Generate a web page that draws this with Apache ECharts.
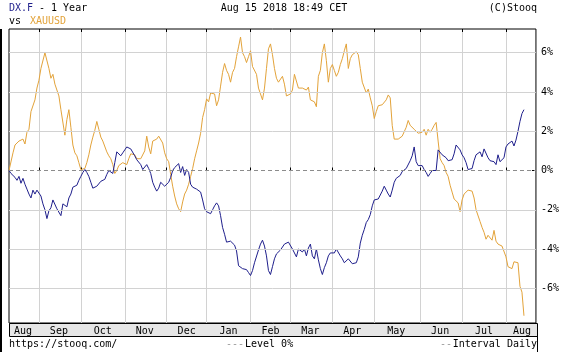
<!DOCTYPE html>
<html>
<head>
<meta charset="utf-8">
<script src="https://cdn.jsdelivr.net/npm/echarts@6.0.0/dist/echarts.min.js"></script>
<style>
  html, body { margin: 0; padding: 0; background: #fff; }
  #chart { width: 562px; height: 352px; }
</style>
</head>
<body>
<div id="chart"></div>
<script>
// month segments of the x axis (trading days per month, last one padded to the frame)
const months = ['Aug', 'Sep', 'Oct', 'Nov', 'Dec', 'Jan', 'Feb', 'Mar', 'Apr', 'May', 'Jun', 'Jul', 'Aug']
const monthDays = [15, 21, 22, 21, 20, 22, 20, 21, 21, 23, 21, 22, 16]
const yTicks = [-6, -4, -2, 0, 2, 4, 6]

// % change since Aug 15 2017, one value per trading day
const dxf = [
  0, -0.15, -0.25, -0.35, -0.5, -0.3, -0.65, -0.4, -0.7, -0.95,
  -1.2, -1.4, -1.0, -1.2, -1.0, -1.05, -1.3, -1.7, -2.0, -2.45,
  -2.05, -1.9, -1.5, -1.6, -1.95, -2.05, -2.3, -1.7, -1.8, -1.85,
  -1.4, -1.2, -0.85, -0.75, -0.75, -0.5, -0.3, -0.1, 0.05, -0.1,
  -0.3, -0.6, -0.9, -0.9, -0.8, -0.7, -0.55, -0.6, -0.45, -0.2,
  0.0, -0.05, -0.15, 0.4, 0.95, 0.9, 0.75, 0.9, 1.05, 1.2,
  1.1, 1.1, 1.1, 0.75, 0.55, 0.5, 0.3, 0.05, 0.1, 0.3,
  0.1, -0.15, -0.6, -0.85, -1.05, -0.9, -0.6, -0.7, -0.8, -0.8,
  -0.6, -0.35, 0.0, 0.15, 0.25, 0.35, -0.1, 0.2, -0.25, 0.05,
  -0.1, -0.7, -0.85, -0.95, -0.95, -1.0, -1.1, -1.5, -1.95, -2.1,
  -2.05, -2.2, -2.0, -1.8, -1.65, -1.8, -2.3, -2.9, -3.25, -3.65,
  -3.7, -3.6, -3.65, -3.8, -4.1, -4.85, -4.95, -5.0, -4.95, -5.05,
  -5.2, -5.35, -5.1, -4.7, -4.6, -4.05, -3.75, -3.55, -3.85, -4.35,
  -5.1, -5.3, -4.9, -4.5, -4.25, -4.15, -4.05, -3.95, -3.75, -3.65,
  -3.65, -3.75, -4.0, -3.95, -4.4, -4.0, -3.9, -4.15, -4.0, -4.35,
  -3.95, -3.75, -4.35, -4.5, -4.0, -4.55, -5.0, -5.3, -4.95, -4.7,
  -4.35, -4.2, -4.1, -4.2, -4.0, -3.95, -4.35, -4.5, -4.7, -4.75,
  -4.5, -4.55, -4.75, -4.8, -4.7, -4.4, -3.7, -3.3, -3.0, -2.65,
  -2.5, -2.25, -1.8, -1.5, -1.45, -1.45, -1.35, -1.05, -0.8, -1.0,
  -1.2, -1.35, -1.0, -0.6, -0.4, -0.3, -0.25, -0.05, 0.05, 0.1,
  0.15, 0.5, 0.75, 1.2, 0.45, 0.25, 0.35, 0.25, 0.05, -0.1,
  -0.3, -0.15, 0.0, 0.1, 0.0, 1.05, 0.95, 0.8, 0.9, 0.65,
  0.5, 0.5, 0.55, 0.85, 1.3, 1.4, 1.05, 0.8, 0.65, 0.4,
  0.05, 0.0, 0.1, 0.5, 0.8, 0.85, 0.95, 0.7, 1.1, 1.15,
  0.65, 0.5, 0.5, 0.45, 0.3, 0.8, 0.45, 0.45, 0.65, 1.2,
  1.35, 1.3, 1.5, 1.25, 1.55, 2.0, 2.5, 2.9, 3.1
]

const xau = [
  0, 0.1, 0.9, 1.3, 1.35, 1.5, 1.4, 1.6, 1.35, 1.95,
  2.1, 3.0, 3.0, 3.6, 4.2, 4.6, 5.2, 5.1, 6.0, 6.05,
  5.2, 4.7, 4.9, 4.4, 4.1, 3.8, 3.1, 3.0, 1.8, 2.6,
  3.1, 2.2, 1.3, 0.9, 0.75, 0.4, 0.05, 0.1, 0.1, 0.4,
  0.8, 1.3, 1.7, 2.05, 2.5, 2.1, 1.7, 1.5, 1.4, 0.95,
  0.75, 0.6, 0.3, -0.15, 0.0, 0.25, 0.3, 0.4, 0.5, 0.3,
  0.6, 0.85, 0.75, 0.8, 0.6, 0.55, 0.6, 0.65, 1.0, 1.75,
  1.2, 0.85, 1.5, 1.4, 1.6, 1.75, 1.8, 1.4, 0.9, 0.6,
  0.45, -0.2, -0.8, -1.3, -1.7, -1.95, -2.1, -1.6, -1.2, -1.0,
  -0.7, -0.3, 0.1, 0.6, 1.0, 1.4, 1.9, 2.7, 3.1, 3.65,
  3.5, 3.95, 3.95, 3.9, 3.3, 3.6, 4.3, 5.0, 5.45, 5.1,
  4.9, 4.5, 5.0, 5.2, 5.8, 6.3, 6.8, 6.0, 5.8, 5.5,
  5.8, 6.1, 5.3, 5.4, 4.9, 4.2, 3.9, 3.6, 4.2, 5.2,
  6.2, 6.45, 5.9, 5.2, 4.7, 4.5, 4.6, 4.8, 4.4, 3.8,
  3.7, 3.9, 4.1, 4.9, 4.9, 4.2, 4.1, 4.2, 4.3, 4.1,
  4.25, 3.6, 3.5, 3.5, 3.25, 4.8, 5.1, 6.0, 6.45, 5.6,
  4.5, 5.2, 5.4, 5.1, 4.8, 5.0, 5.4, 5.7, 6.1, 6.45,
  5.2, 5.7, 5.9, 6.0, 6.05, 5.9, 5.2, 4.5, 4.5, 3.95,
  4.15, 3.7, 3.3, 2.65, 3.0, 3.3, 3.35, 3.35, 3.4, 3.6,
  3.85, 3.7, 2.3, 1.6, 1.6, 1.6, 1.7, 1.75, 1.8, 2.2,
  2.55, 2.3, 2.25, 2.1, 2.0, 1.9, 1.8, 1.95, 2.1, 1.8,
  2.1, 1.95, 2.1, 2.3, 2.45, 1.5, 0.6, 0.4, 0.25, -0.1,
  -0.3, -0.75, -1.1, -1.45, -1.55, -1.65, -2.1, -1.5, -1.2, -1.1,
  -1.0, -1.1, -1.05, -1.4, -2.0, -2.1, -2.6, -2.9, -3.15, -3.5,
  -3.3, -3.4, -3.55, -3.05, -3.6, -3.75, -3.8, -3.85, -3.9, -4.4,
  -4.9, -4.8, -5.0, -4.65, -4.6, -4.7, -5.9, -6.2, -7.4
]

const FONT = 'DejaVu Sans Mono'
const categories = []
const monthStart = new Set()
const monthMid = new Set()
months.forEach((m, k) => {
  const s = categories.length
  if (s > 0) monthStart.add(s)
  monthMid.add(s + Math.floor(monthDays[k] / 2))
  for (let d = 0; d < monthDays[k]; d++) categories.push(m + '-' + k + '-' + d)
})

const chart = echarts.init(document.getElementById('chart'), null, { renderer: 'canvas' })

const tickStyle = { color: '#000', width: 1 }

chart.setOption({
  animation: false,
  backgroundColor: '#fff',
  grid: {
    left: 9, right: 25, top: 29, bottom: 29,
    show: true, borderColor: '#000', borderWidth: 1, backgroundColor: '#fff'
  },
  xAxis: [
    {
      type: 'category',
      data: categories,
      boundaryGap: false,
      position: 'bottom',
      axisLine: { show: false },
      axisTick: { show: true, inside: true, length: 3, interval: (i) => monthStart.has(i), lineStyle: tickStyle },
      axisLabel: {
        interval: (i) => monthMid.has(i),
        formatter: (v) => v.split('-')[0],
        margin: 3, color: '#000', fontFamily: FONT, fontSize: 10
      },
      splitLine: { show: true, interval: (i) => monthStart.has(i), lineStyle: { color: '#d2d2d2', width: 1 } }
    },
    {
      type: 'category',
      data: categories,
      boundaryGap: false,
      position: 'top',
      axisLine: { show: false },
      axisTick: { show: true, inside: true, length: 3, interval: (i) => monthStart.has(i), lineStyle: tickStyle },
      axisLabel: { show: false },
      splitLine: { show: false }
    }
  ],
  yAxis: {
    type: 'value',
    position: 'right',
    min: -7.77,
    max: 7.21,
    axisLine: { show: false },
    axisTick: { show: true, inside: true, length: 4, customValues: yTicks, lineStyle: tickStyle },
    axisLabel: {
      customValues: yTicks,
      formatter: (v) => v + '%',
      margin: 5, color: '#000', fontFamily: FONT, fontSize: 10
    },
    splitLine: { show: false }
  },
  series: [
    {
      type: 'line',
      data: [],
      z: 1,
      silent: true,
      markLine: {
        silent: true,
        symbol: 'none',
        label: { show: false },
        animation: false,
        data: yTicks.map((v) => ({
          yAxis: v,
          lineStyle: v === 0
            ? { color: '#8c8c8c', type: [4, 3], width: 1 }
            : { color: '#d2d2d2', type: 'solid', width: 1 }
        }))
      }
    },
    {
      name: 'XAUUSD',
      type: 'line',
      data: xau,
      z: 3,
      showSymbol: false,
      lineStyle: { color: '#e3a33a', width: 1 },
      itemStyle: { color: '#e3a33a' }
    },
    {
      name: 'DX.F',
      type: 'line',
      data: dxf,
      z: 4,
      showSymbol: false,
      lineStyle: { color: '#1f1f8c', width: 1 },
      itemStyle: { color: '#1f1f8c' }
    }
  ],
  graphic: [
    { type: 'rect', z: -1, shape: { x: 9.5, y: 323.5, width: 528, height: 13 }, style: { fill: '#e6e6e6', stroke: '#000', lineWidth: 1 } },
    { type: 'line', shape: { x1: 1, y1: 29, x2: 1, y2: 352 }, style: { stroke: '#000', lineWidth: 2 } },
    { type: 'line', shape: { x1: 537.5, y1: 336, x2: 537.5, y2: 352 }, style: { stroke: '#000', lineWidth: 1 } },
    { type: 'text', x: 9, y: 3, style: { text: 'DX.F', fill: '#1f1f8c', font: '10px ' + FONT } },
    { type: 'text', x: 33, y: 3, style: { text: ' - 1 Year', fill: '#000', font: '10px ' + FONT } },
    { type: 'text', x: 9, y: 16, style: { text: 'vs', fill: '#000', font: '10px ' + FONT } },
    { type: 'text', x: 30, y: 16, style: { text: 'XAUUSD', fill: '#e3a33a', font: '10px ' + FONT } },
    { type: 'text', x: 284, y: 3, style: { text: 'Aug 15 2018 18:49 CET', fill: '#000', font: '10px ' + FONT, align: 'center' } },
    { type: 'text', x: 537, y: 3, style: { text: '(C)Stooq', fill: '#000', font: '10px ' + FONT, align: 'right' } },
    { type: 'text', x: 9, y: 339, style: { text: 'https://stooq.com/', fill: '#000', font: '10px ' + FONT } },
    { type: 'text', x: 244, y: 339, style: { text: '---', fill: '#999', font: '10px ' + FONT, align: 'right' } },
    { type: 'text', x: 245, y: 339, style: { text: 'Level 0%', fill: '#000', font: '10px ' + FONT } },
    { type: 'text', x: 452, y: 339, style: { text: '--', fill: '#999', font: '10px ' + FONT, align: 'right' } },
    { type: 'text', x: 537, y: 339, style: { text: 'Interval Daily', fill: '#000', font: '10px ' + FONT, align: 'right' } }
  ]
})
</script>
</body>
</html>
